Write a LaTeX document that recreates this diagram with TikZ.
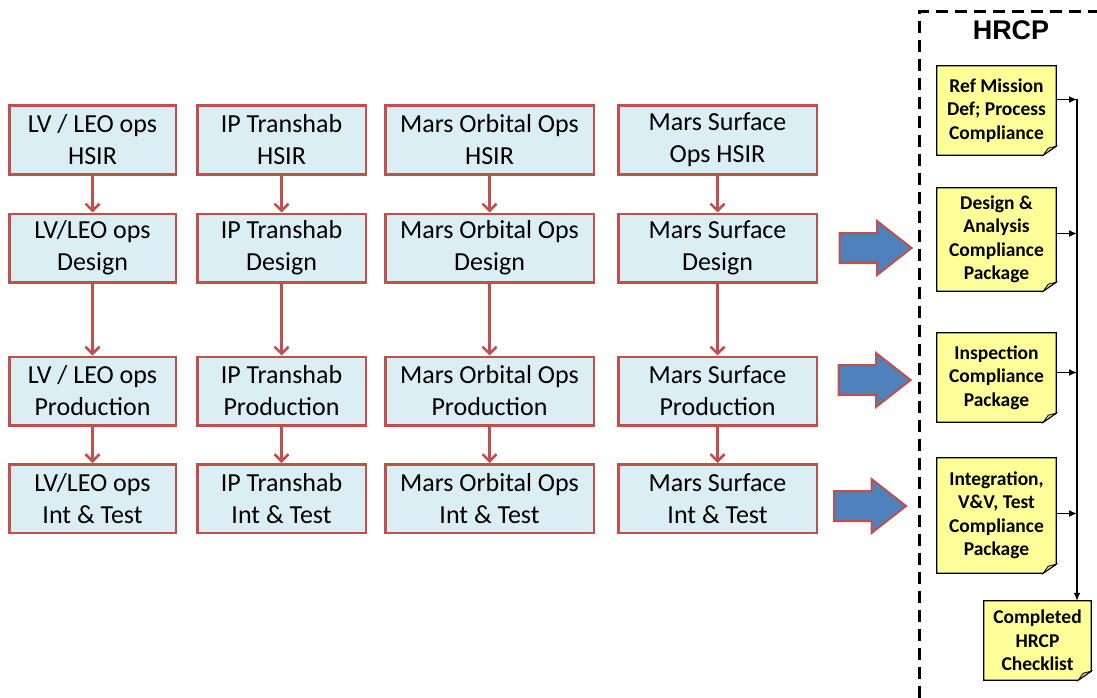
\documentclass[tikz,border=0pt]{standalone}
\usepackage{fontspec}
\setmainfont{Carlito}
\newfontfamily\hrcpfont{Liberation Sans}
\usetikzlibrary{arrows.meta, positioning, shapes.arrows, backgrounds, calc}

\definecolor{boxfill}{HTML}{DAEEF3}
\definecolor{boxred}{HTML}{C0504D}
\definecolor{pushblue}{HTML}{4F81BD}
\definecolor{noteyellow}{HTML}{FFFF99}
\definecolor{notefold}{HTML}{D6CF7E}

\tikzset{
  phase/.style={draw=boxred, fill=boxfill, line width=2.5pt, align=center, inner sep=1pt,
    minimum height=68.5pt, font=\fontsize{26}{32}\selectfont},
  flow/.style={boxred, line width=2.5pt, -{Straight Barb[length=7pt, width=14pt]}},
  push/.style={single arrow, draw=boxred, fill=pushblue, line width=2pt, inner xsep=0pt, inner ysep=14pt,
    minimum height=72pt, single arrow head extend=12pt, single arrow tip angle=76},
  note/.style={align=center, font=\bfseries\fontsize{19.5}{23.5}\selectfont, minimum width=119pt, inner sep=1pt},
  feed/.style={line width=1.3pt, -{Latex[length=8pt, width=7pt]}},
}

\begin{document}
\begin{tikzpicture}[x=1pt, y=-1pt]
    \useasboundingbox (0,0) rectangle (1097,698);

    % phase boxes
    \node[phase, minimum width=166.5pt] (lvhsir)   at (92.5,140)  {LV / LEO ops\\HSIR};
    \node[phase, minimum width=168.5pt] (iphsir)   at (281.5,140) {IP Transhab\\HSIR};
    \node[phase, minimum width=208.5pt] (orbhsir)  at (489.5,140) {Mars Orbital Ops\\HSIR};
    \node[phase, minimum width=198.5pt] (surfhsir) at (717.5,140) {Mars Surface\\Ops HSIR};

    \node[phase, minimum width=166.5pt] (lvdes)   at (92.5,248)  {LV/LEO ops\\Design};
    \node[phase, minimum width=168.5pt] (ipdes)   at (281.5,248) {IP Transhab\\Design};
    \node[phase, minimum width=208.5pt] (orbdes)  at (489.5,248) {Mars Orbital Ops\\Design};
    \node[phase, minimum width=198.5pt] (surfdes) at (717.5,248) {Mars Surface\\Design};

    \node[phase, minimum width=166.5pt] (lvprod)   at (92.5,391)  {LV / LEO ops\\Production};
    \node[phase, minimum width=168.5pt] (ipprod)   at (281.5,391) {IP Transhab\\Production};
    \node[phase, minimum width=208.5pt] (orbprod)  at (489.5,391) {Mars Orbital Ops\\Production};
    \node[phase, minimum width=198.5pt] (surfprod) at (717.5,391) {Mars Surface\\Production};

    \node[phase, minimum width=166.5pt] (lvtest)   at (92.5,498.5)  {LV/LEO ops\\Int \& Test};
    \node[phase, minimum width=168.5pt] (iptest)   at (281.5,498.5) {IP Transhab\\Int \& Test};
    \node[phase, minimum width=208.5pt] (orbtest)  at (489.5,498.5) {Mars Orbital Ops\\Int \& Test};
    \node[phase, minimum width=198.5pt] (surftest) at (717.5,498.5) {Mars Surface\\Int \& Test};

    \foreach \c in {lv, ip, orb, surf} {
        \draw[flow] (\c hsir) -- (\c des);
        \draw[flow] (\c des) -- (\c prod);
        \draw[flow] (\c prod) -- (\c test);
    }

    % block arrows into HRCP
    \node[push] (pushdes)  at (866,248) {};
    \node[push] (pushprod) at (865,380) {};
    \node[push] (pushtest) at (860.5,506) {};

    % HRCP frame
    \draw[line width=3pt, dash pattern=on 12pt off 7pt] (919,698) -- (919,12) -- (1097,12);
    \node[font=\hrcpfont\bfseries\fontsize{27}{30}\selectfont] (hrcp) at (1011,30) {HRCP};

    % compliance notes
    \node[note, minimum height=89pt]  (refdef) at (996.5,110.5) {Ref Mission\\Def; Process\\Compliance};
    \node[note, minimum height=103pt] (desana) at (996.5,239.5) {Design \&\\Analysis\\Compliance\\Package};
    \node[note, minimum height=89pt]  (insp)   at (996.5,377.5) {Inspection\\Compliance\\Package};
    \node[note, minimum height=115pt] (intvv)  at (996.5,515.5) {Integration,\\V\&V, Test\\Compliance\\Package};
    \node[note, minimum height=79pt, minimum width=107pt] (done) at (1037.5,640.5) {Completed\\HRCP\\Checklist};

    \begin{scope}[on background layer]
        \foreach \n in {refdef, desana, insp, intvv, done} {
            \filldraw[fill=noteyellow, line width=1.2pt] (\n.north west) -- (\n.north east)
                -- ([yshift=9pt]\n.south east) -- ([xshift=-13pt]\n.south east) -- (\n.south west) -- cycle;
            \filldraw[fill=notefold, line width=0.8pt] ([yshift=9pt]\n.south east)
                -- ([xshift=-13pt]\n.south east) -- ([xshift=-8pt, yshift=7pt]\n.south east) -- cycle;
        }
    \end{scope}

    % collection line
    \coordinate (bus) at (1077,99);
    \draw[feed] (bus) -- (bus |- done.north);
    \foreach \n/\dy in {refdef/11, desana/6, insp/5, intvv/2}
        \draw[feed] ([yshift=\dy pt]\n.east) -- ([yshift=\dy pt]\n.east -| bus);
\end{tikzpicture}
\end{document}
